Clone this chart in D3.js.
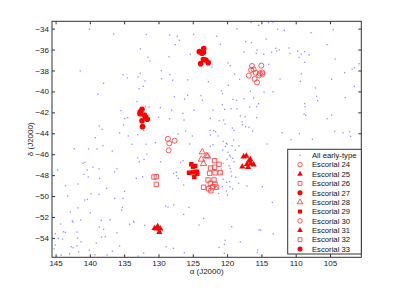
<!DOCTYPE html>
<meta charset="utf-8">
<style>
body { margin: 0; background: #fff; }
svg { font-family: "Liberation Sans", Arial, Helvetica, sans-serif; }
</style>
<svg width="399" height="289"></svg>
<script src="https://d3js.org/d3.v7.min.js"></script>
<script>

// all early-type galaxies, [RA, Dec] in degrees
var earlyType = [
  [140.04,-34.06],[136.54,-34.51],[131.78,-34.57],[128.38,-34.6],[127.26,-34.73],[126.96,-35.11],[124.88,-34.54],[127.55,-35.53],
  [132.65,-35.94],[128.47,-36.68],[125.36,-36.45],[131.53,-36.73],[131.24,-37.09],[141.4,-38.04],[135.17,-38.4],[132.65,-38.26],
  [129.59,-38.02],[128.32,-38.4],[134.55,-38.71],[132.99,-38.62],[131.97,-39.0],[129.55,-38.78],[127.94,-38.93],[125.75,-38.9],
  [138.0,-39.22],[132.84,-39.74],[132.21,-39.51],[127.69,-40.5],[126.19,-40.72],[125.75,-40.37],[138.82,-40.27],[133.13,-40.98],
  [131.88,-41.46],[131.38,-41.49],[135.46,-41.84],[129.73,-41.55],[128.09,-41.8],[126.43,-42.09],[124.82,-41.8],[134.5,-42.51],
  [134.94,-42.6],[129.98,-42.47],[128.38,-42.6],[126.28,-42.73],[138.63,-43.3],[138.23,-43.62],[135.09,-43.21],[132.17,-43.75],
  [134.4,-44.26],[135.67,-43.97],[133.04,-44.13],[127.15,-44.07],[126.05,-43.78],[125.07,-44.26],[139.21,-44.42],[133.86,-45.05],
  [131.82,-45.05],[130.46,-44.9],[125.46,-45.02],
  [116.51,-33.43],[115.4,-33.68],[113.94,-33.43],[113.3,-33.39],[118.55,-34.03],[112.63,-34.06],[111.65,-34.16],[107.76,-34.39],
  [104.55,-34.1],[121.52,-34.73],[117.3,-35.25],[116.46,-35.34],[120.98,-35.5],[114.32,-34.99],[112.92,-35.88],[110.97,-35.85],
  [112.38,-36.04],[115.63,-36.04],[117.53,-36.23],[115.74,-36.36],[114.67,-36.45],[113.5,-36.26],[112.78,-36.14],[110.82,-36.36],
  [109.71,-36.16],[108.69,-36.2],[109.17,-36.45],[108.05,-36.52],[109.51,-36.74],[108.69,-37.22],[105.43,-35.53],[104.26,-36.9],
  [100.76,-37.35],[119.86,-37.28],[119.53,-37.54],[122.19,-37.69],[113.94,-37.41],[101.78,-37.88],[101.45,-37.76],[102.86,-38.21],
  [118.9,-38.33],[109.17,-38.33],[122.73,-39.07],[118.17,-38.84],[112.28,-38.81],[109.32,-39.03],[104.76,-38.84],[119.82,-39.41],
  [101.45,-39.51],[120.84,-39.96],[120.69,-40.22],[113.3,-40.03],[116.61,-39.99],[114.61,-40.08],[107.13,-39.67],[106.8,-40.89],
  [106.94,-40.47],[102.76,-40.6],[123.8,-40.41],[123.61,-40.85],[119.13,-40.75],[118.61,-40.85],[117.53,-40.7],[116.13,-40.63],
  [115.4,-41.17],[120.69,-41.27],[122.05,-41.78],[120.36,-41.71],[119.42,-41.65],[118.55,-41.68],[116.71,-41.49],[115.69,-41.46],
  [108.69,-41.17],[108.63,-41.46],[108.78,-42.16],[108.55,-42.28],[118.07,-42.35],[117.38,-42.42],[104.76,-42.25],[105.43,-42.61],
  [122.44,-42.57],[121.17,-42.8],[120.5,-42.73],[117.82,-42.92],[115.69,-42.51],[120.3,-43.11],[117.73,-43.18],[117.3,-43.37],
  [116.8,-43.43],[119.23,-43.5],[121.96,-43.75],[121.67,-43.85],[122.49,-43.72],[118.99,-43.72],[116.27,-43.78],[111.99,-43.95],
  [109.47,-44.04],[104.32,-43.81],[103.09,-43.95],[102.13,-43.85],[101.99,-44.29],[122.44,-44.17],[121.32,-44.26],[120.59,-44.77],
  [120.01,-45.03],[122.05,-45.09],[114.18,-45.03],[110.68,-44.61],[107.57,-44.58],
  [142.27,-45.48],[140.19,-45.5],[138.96,-45.5],[138.09,-45.19],[136.73,-45.7],[133.04,-46.34],[132.79,-46.72],[132.11,-46.49],
  [131.67,-45.98],[129.69,-46.72],[126.42,-46.62],[125.31,-46.91],[141.0,-46.87],[140.71,-46.78],[140.38,-47.51],[139.54,-47.23],
  [138.67,-47.42],[136.05,-47.39],[136.4,-47.67],[144.71,-47.51],[141.73,-48.85],[143.54,-49.01],[140.86,-47.92],[140.23,-48.18],
  [137.56,-49.26],[138.58,-48.31],[133.23,-48.31],[132.31,-48.15],[127.36,-48.06],[127.4,-47.73],[127.11,-48.31],[126.33,-48.95],
  [143.25,-50.0],[139.84,-49.78],[140.77,-50.38],[141.73,-51.12],[140.38,-50.31],[136.4,-50.22],[134.94,-49.55],[135.17,-50.22],
  [138.67,-49.83],[139.94,-51.59],[142.85,-51.53],[138.33,-52.32],[137.07,-52.26],[135.27,-51.08],[135.37,-51.34],[134.21,-52.7],
  [133.57,-52.51],[133.63,-52.39],[132.02,-52.8],[128.96,-50.95],[128.61,-51.05],[127.79,-50.86],[126.33,-51.75],[125.55,-51.08],
  [124.09,-52.77],[144.27,-52.67],[142.56,-52.36],[142.46,-52.48],[141.35,-52.29],[143.87,-53.41],[143.58,-53.47],[145.04,-53.6],
  [144.6,-54.04],[143.98,-54.11],[141.88,-53.44],[141.79,-54.01],[138.63,-52.96],[138.0,-53.18],[137.75,-53.89],[138.29,-53.92],
  [136.05,-53.51],[139.06,-54.49],[141.29,-54.37],[142.71,-54.84],[142.46,-54.94],[141.88,-54.75],[141.64,-55.32],[145.04,-54.68],
  [145.23,-55.04],[140.08,-55.16],[139.25,-55.61],[137.5,-55.64],[136.73,-55.26],[132.94,-55.73],[132.17,-55.45],[128.9,-54.84],
  [127.84,-54.99],[126.23,-55.42],[135.67,-54.78],[144.17,-55.64],[142.96,-55.51],
  [122.44,-45.25],[120.25,-45.25],[119.28,-45.19],[118.8,-45.6],[118.26,-45.19],[119.63,-46.08],[119.19,-46.39],[118.99,-46.72],
  [120.01,-46.49],[119.72,-47.1],[120.79,-47.42],[120.88,-47.87],[119.42,-47.67],[119.34,-48.09],[118.75,-48.21],[120.55,-48.4],
  [120.07,-48.69],[119.63,-48.63],[119.57,-49.11],[120.11,-49.52],[119.19,-49.33],[121.38,-49.2],[114.86,-49.11],[113.4,-50.6],
  [123.42,-52.13],[119.34,-52.93],[115.34,-53.22],[115.11,-53.25],[113.26,-53.6],[120.25,-54.23],[120.4,-54.61],[118.07,-54.37],
  [121.17,-54.9],[120.4,-55.47],[115.59,-55.38],[115.55,-55.16],
  [119.04,-44.64],[120.11,-44.96],[120.65,-45.6],[119.86,-45.82],[119.53,-46.24],[120.59,-46.87],[119.53,-47.35],[118.32,-48.78],
  [120.69,-49.11],[119.96,-49.9],[121.23,-49.74],[117.09,-49.04],[126.77,-46.78],[127.79,-47.83]
];

// Escorial groups, RA and Dec lists
var esc24RA  = [116.37,115.01,116.5,116.14,115.82,116.84,115.34,114.87,114.83,115.99,115.64,115.23];
var esc24Dec = [-37.57,-37.54,-37.95,-37.9,-38.22,-38.49,-38.47,-38.19,-38.35,-38.81,-39.14,-38.28];
var esc25RA  = [117.59,117.2,116.81,116.52,117.1,117.78,116.95,116.14,116.62];
var esc25Dec = [-46.24,-46.17,-46.65,-46.87,-46.96,-47.19,-47.25,-47.0,-46.49];
var esc26RA  = [121.82,121.18,122.41,121.82,122.55,121.76,120.99,122.78,121.91,122.45,123.43,122.7,122.06,121.53,122.35,121.76];
var esc26Dec = [-46.62,-46.96,-47.32,-47.25,-47.82,-47.77,-47.77,-48.46,-48.46,-48.78,-49.16,-49.3,-49.11,-49.16,-49.49,-48.85];
var esc27RA  = [123.4,123.45,123.65,124.05,123.45,123.1,123.85,122.75];
var esc27Dec = [-35.9,-36.25,-36.35,-36.2,-36.95,-37.0,-37.35,-37.25];
var esc28RA  = [123.62,122.99,123.76,123.43,122.84];
var esc28Dec = [-45.79,-46.14,-46.49,-46.91,-46.2];
var esc29RA  = [125.22,124.64,124.97,124.39,124.34,124.97,125.55,124.78];
var esc29Dec = [-46.96,-47.13,-47.19,-47.67,-47.86,-47.73,-47.77,-48.18];
var esc30RA  = [128.62,128.43,127.65,128.53];
var esc30Dec = [-44.54,-44.96,-44.71,-45.63];
var esc31RA  = [130.57,130.13,129.74,129.88,130.32];
var esc31Dec = [-53.08,-52.89,-53.12,-53.44,-53.12];
var esc32RA  = [130.66,130.32,130.32];
var esc32Dec = [-48.18,-48.15,-48.88];
var esc33RA  = [132.65,132.4,132.7,132.07,131.88,131.63,132.4,132.32];
var esc33Dec = [-41.94,-41.71,-42.13,-42.25,-42.44,-42.66,-42.8,-43.37];

var groupNames = ["Escorial 24","Escorial 25","Escorial 26","Escorial 27","Escorial 28",
                  "Escorial 29","Escorial 30","Escorial 31","Escorial 32","Escorial 33"];
var groupRA  = [esc24RA, esc25RA, esc26RA, esc27RA, esc28RA, esc29RA, esc30RA, esc31RA, esc32RA, esc33RA];
var groupDec = [esc24Dec, esc25Dec, esc26Dec, esc27Dec, esc28Dec, esc29Dec, esc30Dec, esc31Dec, esc32Dec, esc33Dec];

var xTicks = [145, 140, 135, 130, 125, 120, 115, 110, 105];
var yTicks = [-34, -36, -38, -40, -42, -44, -46, -48, -50, -52, -54];

// marker cycle: o ^ s filled-o open-^ filled-s
var markers = [
  {shape: d3.symbolCircle,   size: 20, filled: false},
  {shape: d3.symbolTriangle, size: 17, filled: true},
  {shape: d3.symbolSquare,   size: 19, filled: false},
  {shape: d3.symbolCircle,   size: 25, filled: true},
  {shape: d3.symbolTriangle, size: 17, filled: false},
  {shape: d3.symbolSquare,   size: 20, filled: true}
];

var svg = d3.select("svg"),
    margin = {top: 21.3, right: 37.7, bottom: 31.7, left: 52},
    width = 399 - margin.left - margin.right,
    height = 289 - margin.top - margin.bottom,
    g = svg.append("g").attr("transform", "translate(" + margin.left + "," + margin.top + ")");

var x = d3.scaleLinear().domain([145.52, 100.44]).range([0, width]);
var y = d3.scaleLinear().domain([-55.85, -33.3]).range([height, 0]);

// points
g.append("g").selectAll("rect")
  .data(earlyType)
  .enter().append("rect")
    .attr("x", function(d) { return x(d[0]) - 0.65; })
    .attr("y", function(d) { return y(d[1]) - 0.65; })
    .attr("width", 1.3)
    .attr("height", 1.3)
    .attr("fill", "#5555ff")
    .attr("opacity", 0.65);

function styleMarker(sel, m) {
  if (m.filled) sel.attr("fill", "#ff0000").attr("stroke", "none");
  else sel.attr("fill", "none").attr("stroke", "#ff3b3b").attr("stroke-width", 0.85);
}

groupRA.forEach(function(ra, i) {
  var m = markers[i % 6];
  var pts = ra.map(function(r, j) { return [r, groupDec[i][j]]; });
  var sym = g.append("g").selectAll("path")
    .data(pts)
    .enter().append("path")
      .attr("d", d3.symbol().type(m.shape).size(m.size))
      .attr("transform", function(d) { return "translate(" + x(d[0]) + "," + y(d[1]) + ")"; });
  styleMarker(sym, m);
});

// axes, ticks inward on all sides
function clean(a) { a.select(".domain").remove(); a.selectAll("line").attr("stroke", "#333"); }

g.append("g")
    .attr("transform", "translate(0," + height + ")")
    .call(d3.axisBottom(x).tickValues(xTicks).tickSizeInner(-3).tickSizeOuter(0).tickPadding(3))
    .call(clean)
    .selectAll("text").attr("font-size", 8).attr("fill", "#222");

g.append("g")
    .call(d3.axisTop(x).tickValues(xTicks).tickSizeInner(-3).tickSizeOuter(0).tickFormat(""))
    .call(clean);

g.append("g")
    .call(d3.axisLeft(y).tickValues(yTicks).tickSizeInner(-3).tickSizeOuter(0).tickPadding(3))
    .call(clean)
    .selectAll("text").attr("font-size", 8).attr("fill", "#222");

g.append("g")
    .attr("transform", "translate(" + width + ",0)")
    .call(d3.axisRight(y).tickValues(yTicks).tickSizeInner(-3).tickSizeOuter(0).tickFormat(""))
    .call(clean);

g.append("rect")
    .attr("width", width)
    .attr("height", height)
    .attr("fill", "none")
    .attr("stroke", "#333")
    .attr("stroke-width", 1);

// axis labels
svg.append("text")
    .attr("x", margin.left + width / 2)
    .attr("y", 274)
    .attr("text-anchor", "middle")
    .attr("font-size", 8)
    .attr("fill", "#222")
    .text("\u03b1 (J2000)");

svg.append("text")
    .attr("transform", "translate(33," + (margin.top + height / 2) + ") rotate(-90)")
    .attr("text-anchor", "middle")
    .attr("font-size", 8)
    .attr("fill", "#222")
    .text("\u03b4 (J2000)");

// legend
var lg = svg.append("g").attr("transform", "translate(287.7,149.3)");
lg.append("rect")
    .attr("width", 399 - margin.right - 287.7)
    .attr("height", 104.7)
    .attr("fill", "#fff")
    .attr("stroke", "#333")
    .attr("stroke-width", 1);

var rowH = 9.37;
lg.append("rect")
    .attr("x", 12.3 - 0.65).attr("y", 6 - 0.65)
    .attr("width", 1.3).attr("height", 1.3)
    .attr("fill", "#5555ff").attr("opacity", 0.65);
lg.append("text")
    .attr("x", 24.3).attr("y", 6 + 2.8)
    .attr("font-size", 7.7).attr("fill", "#111")
    .text("All early-type");

groupNames.forEach(function(name, i) {
  var m = markers[i % 6];
  var cy = 6 + (i + 1) * rowH;
  var p = lg.append("path")
      .attr("d", d3.symbol().type(m.shape).size(m.size * 0.8))
      .attr("transform", "translate(12.3," + cy + ")");
  styleMarker(p, m);
  lg.append("text")
      .attr("x", 24.3).attr("y", cy + 2.8)
      .attr("font-size", 7.7).attr("fill", "#111")
      .text(name);
});

</script>
